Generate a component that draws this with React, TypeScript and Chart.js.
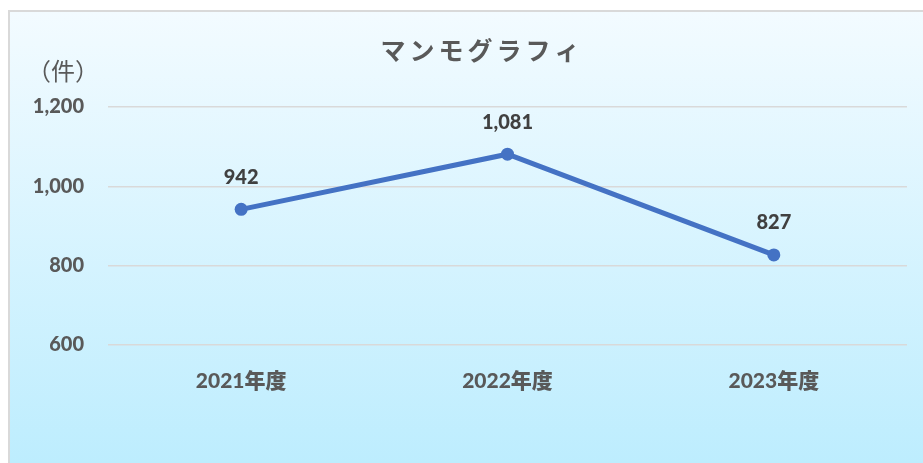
import React, { useEffect, useRef } from "react";
import { Chart, registerables } from "chart.js";

Chart.register(...registerables);

const chartTitle = "マンモグラフィ";
const unitLabel = "（件）";
const categories = ["2021年度", "2022年度", "2023年度"];
const counts = [942, 1081, 827];
const yMin = 600;
const yMax = 1200;
const yStep = 200;

const FONT = "Lato, 'Noto Sans CJK JP', sans-serif";
const CJK = "'Noto Sans CJK JP', sans-serif";

const overlayPlugin = {
  id: "overlay",
  afterDatasetsDraw(chart: any) {
    const ctx = chart.ctx as CanvasRenderingContext2D;
    ctx.save();
    // title
    ctx.fillStyle = "#595959";
    ctx.font = `bold 25px ${CJK}`;
    (ctx as any).letterSpacing = "4px";
    ctx.textAlign = "center";
    ctx.textBaseline = "middle";
    ctx.fillText(chartTitle, chart.width / 2 + 2, 40);
    (ctx as any).letterSpacing = "0px";
    // unit label
    ctx.font = `24px ${CJK}`;
    ctx.fillText(unitLabel, 55, 61);
    // data labels
    const meta = chart.getDatasetMeta(0);
    ctx.font = `900 20px ${FONT}`;
    ctx.fillStyle = "#404040";
    meta.data.forEach((pt: any, i: number) => {
      const v = counts[i];
      ctx.fillText(v.toLocaleString("en-US"), pt.x, pt.y - 32);
    });
    ctx.restore();
  },
};

export default function App() {
  const ref = useRef<HTMLCanvasElement | null>(null);
  useEffect(() => {
    if (!ref.current) return;
    const chart = new Chart(ref.current, {
      type: "line",
      data: {
        labels: categories,
        datasets: [
          {
            data: counts,
            borderColor: "#4472C4",
            backgroundColor: "#4472C4",
            borderWidth: 5,
            pointRadius: 6.5,
            pointBackgroundColor: "#4472C4",
            pointBorderColor: "#4472C4",
            pointBorderWidth: 0,
            tension: 0,
          },
        ],
      },
      options: {
        responsive: false,
        animation: false,
        devicePixelRatio: 1,
        layout: { padding: { left: 0, top: 97, right: 45, bottom: 58 } },
        plugins: {
          legend: { display: false },
          title: { display: false },
          tooltip: { enabled: false },
        },
        scales: {
          x: {
            type: "category",
            offset: true,
            grid: { display: false, drawTicks: false },
            border: { display: false },
            ticks: {
              color: "#595959",
              font: { family: FONT, size: 21, weight: "900" },
              padding: 24,
              maxRotation: 0,
            },
            afterFit: (s: any) => {
              s.height = 60;
            },
          },
          y: {
            min: yMin,
            max: yMax,
            grid: { color: "#d9d9d9", lineWidth: 1.5, drawTicks: false },
            border: { display: false },
            ticks: {
              stepSize: yStep,
              color: "#595959",
              font: { family: FONT, size: 20, weight: "900" },
              padding: 24,
              callback: (v: any) => Number(v).toLocaleString("en-US"),
            },
            afterFit: (s: any) => {
              s.width = 100;
            },
          },
        },
      },
      plugins: [overlayPlugin],
    } as any);
    return () => chart.destroy();
  }, []);

  return (
    <div
      style={{
        position: "fixed",
        left: 8,
        top: 10,
        width: 915,
        height: 453,
        overflow: "hidden",
        background: "linear-gradient(to bottom, #f3fbff 0%, #bdedfe 100%)",
        boxShadow: "inset 2px 2px 0 #d9d9d9",
      }}
    >
      <canvas
        ref={ref}
        width={944}
        height={453}
        style={{ position: "absolute", left: 0, top: 0, width: 944, height: 453 }}
      />
    </div>
  );
}
